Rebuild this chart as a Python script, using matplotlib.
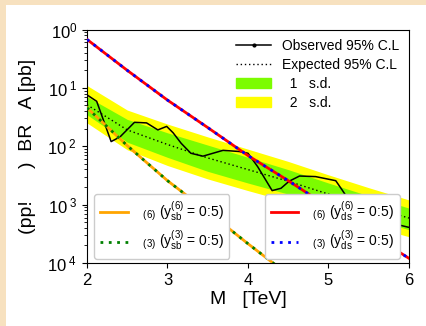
import numpy as np
import matplotlib
matplotlib.use("Agg")
import matplotlib.pyplot as plt
from matplotlib.lines import Line2D
from matplotlib.patches import Rectangle, Patch

plt.rcParams['font.family'] = ['Liberation Sans', 'DejaVu Sans']
plt.rcParams['mathtext.fontset'] = 'custom'
plt.rcParams['mathtext.rm'] = 'Liberation Sans'
plt.rcParams['mathtext.it'] = 'Liberation Sans:italic'
plt.rcParams['mathtext.bf'] = 'Liberation Sans:bold'

# ---- data (log10 of cross section in pb) ----
x_obs = [2.0, 2.12, 2.30, 2.41, 2.59, 2.74, 2.88, 2.99, 3.07, 3.17, 3.29, 3.44, 3.69, 3.89,
         4.0, 4.12, 4.30, 4.41, 4.51, 4.64, 4.84, 5.09, 5.17, 5.28, 5.55, 5.88, 6.0]
logy_obs = [-1.12, -1.23, -1.92, -1.84, -1.59, -1.60, -1.72, -1.66, -1.77, -1.95, -2.12, -2.17,
            -2.07, -2.09, -2.12, -2.35, -2.76, -2.72, -2.60, -2.51, -2.52, -2.59, -2.75, -2.98,
            -3.20, -3.35, -3.39]

x_exp = [2.0, 2.5, 3.0, 3.5, 4.0, 4.5, 5.0, 5.5, 6.0]
logy_exp = [-1.29, -1.72, -1.97, -2.20, -2.40, -2.60, -2.82, -3.03, -3.23]
logy_1lo = [-1.46, -1.93, -2.19, -2.43, -2.63, -2.82, -3.03, -3.23, -3.43]
logy_1hi = [-1.15, -1.54, -1.77, -1.98, -2.19, -2.40, -2.63, -2.85, -3.06]
logy_2lo = [-1.60, -2.06, -2.33, -2.56, -2.76, -2.95, -3.16, -3.36, -3.55]
logy_2hi = [-0.96, -1.38, -1.62, -1.84, -2.05, -2.26, -2.49, -2.71, -2.92]

x_ds = [2.0, 2.5, 3.0, 3.5, 4.0, 4.5, 5.0, 5.5, 6.0]
logy_ds = [-0.17, -0.70, -1.21, -1.68, -2.16, -2.59, -3.04, -3.48, -3.92]

x_sb = [2.0, 2.5, 3.0, 3.5, 4.0, 4.5]
logy_sb = [-1.34, -1.99, -2.59, -3.12, -3.67, -4.20]

yticks = [1e-4, 1e-3, 1e-2, 1e-1, 1e0]
ytick_labels = ["10$^{\\ 4}$", "10$^{\\ 3}$", "10$^{\\ 2}$", "10$^{\\ 1}$", "10$^{0}$"]
xticks = [2, 3, 4, 5, 6]

p = lambda a: np.power(10.0, np.array(a))

fig = plt.figure(figsize=(4.27, 3.26), dpi=100)
fig.patch.set_facecolor('#F7E1BF')
fig.patches.append(Rectangle((6/427, 0), 1, (326-5)/326, transform=fig.transFigure,
                             facecolor='white', edgecolor='none', zorder=-10))
ax = fig.add_axes([87/427, 1-263/326, (409-87)/427, (263-29.5)/326])

ax.fill_between(x_exp, p(logy_2lo), p(logy_2hi), color='#FFFF00', lw=0, zorder=1)
ax.fill_between(x_exp, p(logy_1lo), p(logy_1hi), color='#7CFC00', lw=0, zorder=2)
ax.plot(x_exp, p(logy_exp), color='black', ls=(0, (1, 2)), lw=1.0, zorder=3)
ax.plot(x_obs, p(logy_obs), color='black', lw=1.1, zorder=4)

l_ds6, = ax.plot(x_ds, p(logy_ds), color='red', lw=2, zorder=5)
l_ds3, = ax.plot(x_ds, p(logy_ds), color='blue', lw=2, ls=(0, (1, 2)), zorder=6)
l_sb6, = ax.plot(x_sb, p(logy_sb), color='orange', lw=2, zorder=5)
l_sb3, = ax.plot(x_sb, p(logy_sb), color='green', lw=2, ls=(0, (1, 2)), zorder=6)

ax.set_yscale('log')
ax.set_xlim(2, 6)
ax.set_ylim(1e-4, 1)
ax.set_xticks(xticks)
ax.set_xticklabels([str(t) for t in xticks])
ax.set_yticks(yticks)
ax.set_yticklabels(ytick_labels)
ax.tick_params(axis='both', which='major', labelsize=12, length=3.5)
ax.tick_params(axis='y', which='minor', length=2)
ax.set_xlabel("M   [TeV]", fontsize=14, labelpad=2)
ax.set_ylabel("(pp!      )  BR   A [pb]", fontsize=14, labelpad=8)

h_obs = Line2D([], [], color='black', lw=1.1, marker='.', markersize=4)
h_exp = Line2D([], [], color='black', lw=1.0, ls=(0, (1, 2)))
h_1 = Patch(color='#7CFC00')
h_2 = Patch(color='#FFFF00')
leg1 = ax.legend([h_obs, h_exp, h_1, h_2],
                 ["Observed 95% C.L", "Expected 95% C.L", "  1   s.d.", "  2   s.d."],
                 loc='upper right', frameon=False, fontsize=10, numpoints=1,
                 handlelength=2.5, borderaxespad=0.3, labelspacing=0.35)
leg1.set_zorder(10)
ax.add_artist(leg1)

leg2 = ax.legend([l_sb6, l_sb3],
                 [" $_{(6)}$ (y$_{\\mathrm{sb}}^{(6)}$ = 0:5)",
                  " $_{(3)}$ (y$_{\\mathrm{sb}}^{(3)}$ = 0:5)"],
                 loc='lower left', fontsize=10, handlelength=2.0, framealpha=1,
                 bbox_to_anchor=(0.01, 0.0), borderaxespad=0.3, labelspacing=0.4)
leg2.set_zorder(10)
ax.add_artist(leg2)
leg3 = ax.legend([l_ds6, l_ds3],
                 [" $_{(6)}$ (y$_{\\mathrm{ds}}^{(6)}$ = 0:5)",
                  " $_{(3)}$ (y$_{\\mathrm{ds}}^{(3)}$ = 0:5)"],
                 loc='lower right', fontsize=10, handlelength=2.0, framealpha=1,
                 bbox_to_anchor=(0.985, 0.0), borderaxespad=0.3, labelspacing=0.4)
leg3.set_zorder(10)

fig.savefig("out.png", dpi=100, facecolor=fig.get_facecolor())
